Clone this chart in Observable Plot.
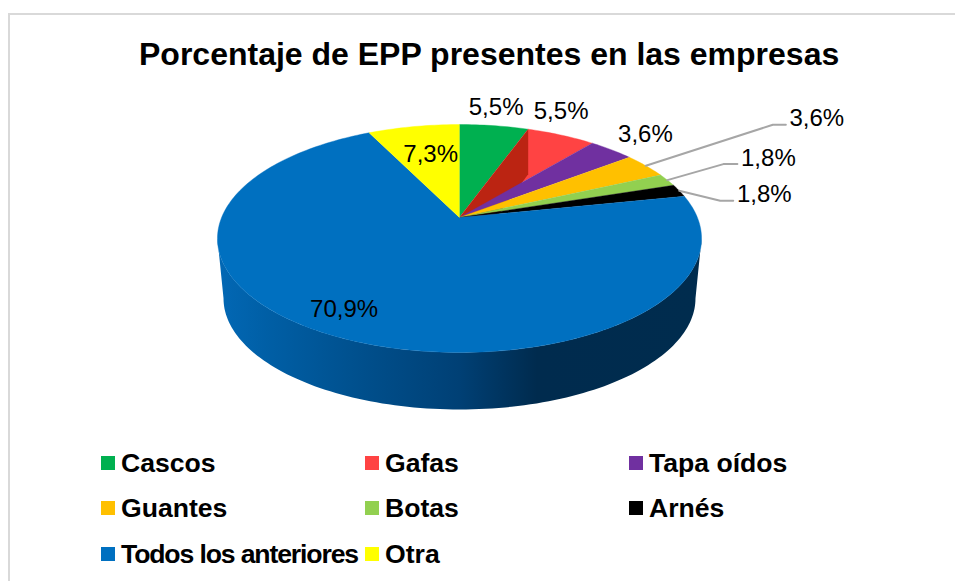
<!DOCTYPE html>
<html>
<head>
<meta charset="utf-8">
<script src="https://cdn.jsdelivr.net/npm/d3@7"></script>
<script src="https://cdn.jsdelivr.net/npm/@observablehq/plot@0.6"></script>
<style>
  html, body { margin: 0; padding: 0; background: #fff; overflow: hidden; }
  #page { position: relative; width: 955px; height: 581px; font-family: "Liberation Sans", Arial, sans-serif; color: #000; }
  #frame { position: absolute; left: 8px; top: 13px; right: -5px; bottom: -5px; border: 2px solid #d9d9d9; box-sizing: border-box; }
  #title { position: absolute; left: 0; top: 0; width: 100%; height: 90px; }
  #title div { position: absolute; left: 139px; top: 36px; font-size: 32px; line-height: 36px; font-weight: 700; white-space: nowrap; }
  #chart { position: absolute; left: 0; top: 90px; }
  #chart svg { display: block; }
  #legend { position: absolute; left: 0; top: 430px; width: 955px; height: 151px; }
  .item { position: absolute; display: flex; align-items: center; font-size: 26.6px; font-weight: 700; line-height: 30px; white-space: nowrap; }
  .item i { display: block; width: 14px; height: 14px; margin-right: 6px; }
</style>
</head>
<body>
<div id="page">
  <div id="frame"></div>
  <div id="title"><div>Porcentaje de EPP presentes en las empresas</div></div>
  <div id="chart"></div>
  <div id="legend"></div>
</div>
<script>
const categories = ["Cascos", "Gafas", "Tapa oídos", "Guantes", "Botas", "Arnés", "Todos los anteriores", "Otra"];
const percents = [5.5, 5.5, 3.6, 3.6, 1.8, 1.8, 70.9, 7.3];
const labels = ["5,5%", "5,5%", "3,6%", "3,6%", "1,8%", "1,8%", "70,9%", "7,3%"];
const colors = ["#00b050", "#ff4343", "#7030a0", "#ffc000", "#92d050", "#000000", "#0070c0", "#ffff00"];

// Layout of the tilted pie (pixels of the 955x581 page)
const W = 955, SVG_TOP = 90, SVG_H = 340;
const cx = 459, cy = 217, R = 237.9, tiltD = 110.1, persp = 0.1842;
const lowerScale = 0.975, lowerDrop = 60.4, wallDrop = 45;

// Label offsets from each slice's rim midpoint, in pixels
const labelDX = [2, 0, 34, 171, 101, 85, 10, 17];
const labelDY = [-18, -24, -15, -47, -22, 4, -27, 28];
// Leader elbows for the small slices
const leaderSlices = [3, 4, 5];
const leaderKnee = [[127, -41], [56, -16], [41, 10]];
const leaderEnd = [[140, -41], [70, -16], [54, 10]];

const toRad = p => p / 100 * 2 * Math.PI;
// project a pie-plane point (angle clockwise from 12 o'clock, radius 0..1) into chart units (radius = 1)
function project(a, r = 1, s = 1, drop = 0) {
  const u = r * Math.sin(a), v = r * Math.cos(a), w = 1 + persp * v;
  return {x: s * u / w, y: (-drop - s * tiltD * v / w * -1) / R};
}
const pxOffset = (p, dx, dy) => ({x: p.x + dx / R, y: p.y - dy / R});

let cum = 0;
const slices = percents.map((p, i) => {
  const start = cum; cum += p;
  return {name: categories[i], label: labels[i], start, end: cum, mid: start + p / 2, i};
});

const polyPts = d3.merge(slices.map(s => {
  const n = Math.max(4, Math.ceil((s.end - s.start) * 3));
  const pts = [{...project(0, 0), name: s.name}];
  for (let k = 0; k <= n; k++) pts.push({...project(toRad(s.start + (s.end - s.start) * k / n)), name: s.name});
  return pts;
}));
const bySlice = name => polyPts.filter(d => d.name === name);

// side wall: visible band from left silhouette through the front to right silhouette
const silR = Math.PI - Math.asin(Math.sqrt(1 - persp * persp));
const silL = Math.PI + Math.asin(Math.sqrt(1 - persp * persp));
const steps = d3.range(0, 121).map(k => silR + (silL - silR) * k / 120);
const band = [
  ...steps.map(a => project(a)),
  ...steps.slice().reverse().map(a => project(a, 1, lowerScale, lowerDrop))
];

// dark cut face of the Gafas slice at its leading edge
const edge = project(toRad(slices[1].start));
const cut = [project(0, 0), edge, pxOffset(edge, 0, wallDrop), pxOffset(project(0, 0), 0, wallDrop + 5)];

const labelData = slices.map(s => {
  const p = pxOffset(project(toRad(s.mid)), labelDX[s.i], labelDY[s.i]);
  return {...p, label: s.label};
});
const leaders = d3.merge(leaderSlices.map((si, j) => {
  const a = project(toRad(slices[si].mid));
  return [a, pxOffset(a, ...leaderKnee[j]), pxOffset(a, ...leaderEnd[j])].map(p => ({...p, z: j}));
}));

const gradient = () => {
  const defs = d3.create("svg:defs");
  const g = defs.append("linearGradient").attr("id", "wallGrad").attr("gradientUnits", "userSpaceOnUse")
    .attr("x1", 217).attr("x2", 701).attr("y1", 0).attr("y2", 0);
  [[0, "#0268b5"], [0.1, "#005fa6"], [0.3, "#004f8c"], [0.5, "#004075"], [0.66, "#002b4e"], [1, "#002c4e"]]
    .forEach(([o, c]) => g.append("stop").attr("offset", o).attr("stop-color", c));
  return defs.node();
};

const sliceMark = name => Plot.line(bySlice(name), {x: "x", y: "y", fill: "name", stroke: "name", strokeWidth: 0.4});

const chart = Plot.plot({
  width: W, height: SVG_H,
  marginTop: 0, marginRight: 0, marginBottom: 0, marginLeft: 0,
  style: {background: "transparent", fontFamily: "'Liberation Sans', Arial, sans-serif", overflow: "visible"},
  x: {domain: [-cx / R, (W - cx) / R], range: [0, W], axis: null},
  y: {domain: [(cy - SVG_TOP) / R, (cy - SVG_TOP - SVG_H) / R], range: [0, SVG_H], axis: null},
  color: {domain: categories, range: colors},
  marks: [
    gradient,
    Plot.line(band, {x: "x", y: "y", fill: "url(#wallGrad)", stroke: "none"}),
    sliceMark("Cascos"),
    sliceMark("Gafas"),
    Plot.line(cut, {x: "x", y: "y", fill: "#bb2412", stroke: "none"}),
    ...categories.slice(2).map(sliceMark),
    Plot.line(leaders, {x: "x", y: "y", z: "z", stroke: "#a6a6a6", strokeWidth: 2}),
    Plot.text(labelData, {x: "x", y: "y", text: "label", fontSize: 24, fill: "#000", textAnchor: "middle", lineAnchor: "middle"})
  ]
});
chart.removeAttribute("viewBox");
document.getElementById("chart").append(chart);

// legend
const legendX = [101, 365, 629], legendY = [33, 78, 124], legendMaxText = 237;
const legend = d3.select("#legend");
categories.forEach((c, i) => {
  const item = legend.append("div").attr("class", "item")
    .style("left", legendX[i % 3] + "px")
    .style("top", (legendY[Math.floor(i / 3)] - 15) + "px");
  item.append("i").style("background", colors[i]);
  const span = item.append("span").text(c);
  const w = span.node().getBoundingClientRect().width;
  if (w > legendMaxText) span.style("letter-spacing", ((legendMaxText - w) / c.length) + "px");
});
</script>
</body>
</html>
